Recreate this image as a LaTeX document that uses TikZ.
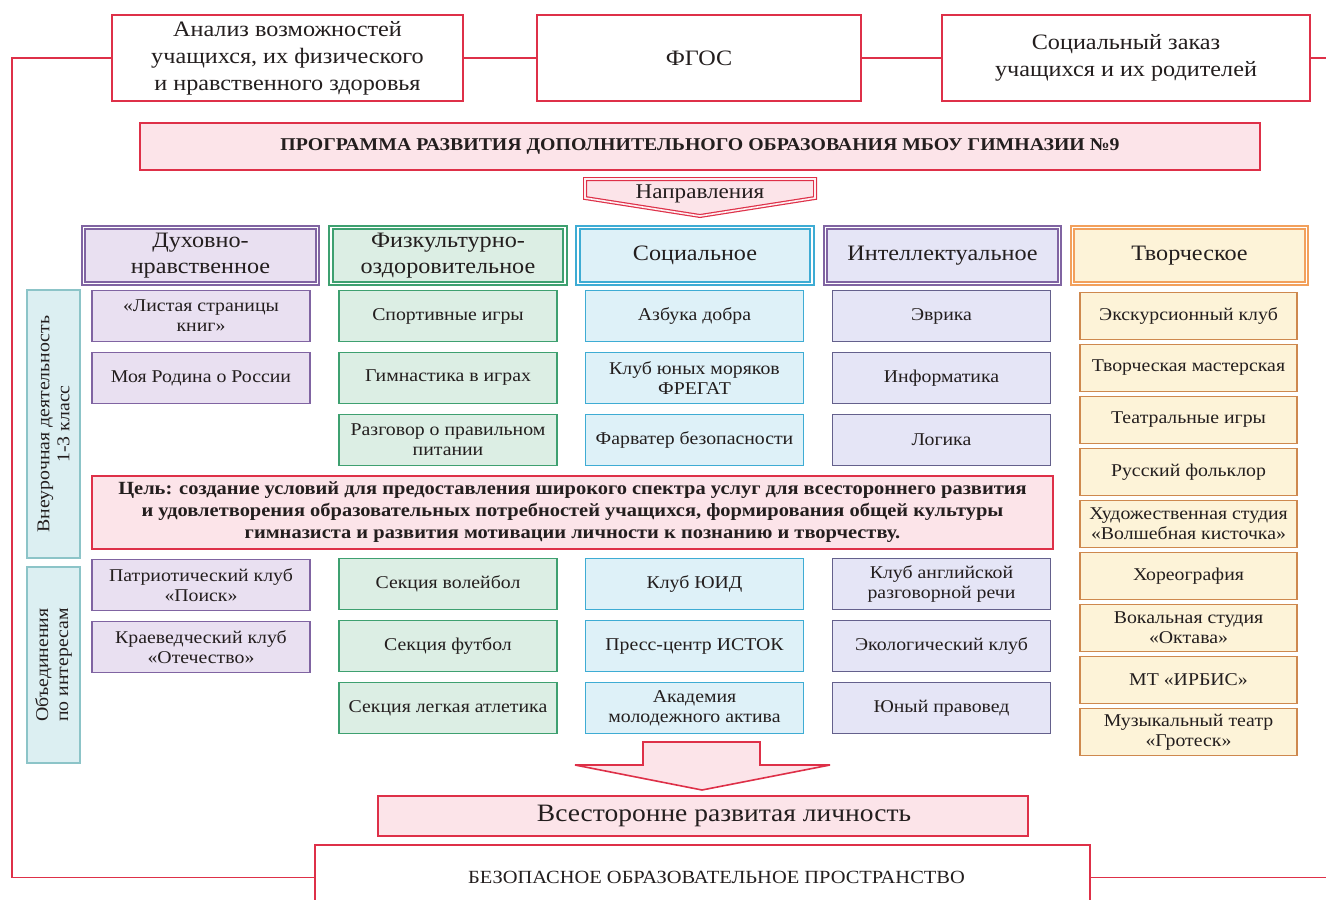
\documentclass[tikz,border=0pt]{standalone}
\usepackage{fontspec}
\setmainfont{Liberation Serif}[FakeStretch=1.1]
\usepackage{tikz}

\definecolor{redc}{RGB}{222,48,72}
\definecolor{pinkc}{RGB}{252,228,233}
\definecolor{purpc}{RGB}{128,100,162}
\definecolor{purpf}{RGB}{233,224,241}
\definecolor{greenc}{RGB}{62,160,112}
\definecolor{greenf}{RGB}{220,238,228}
\definecolor{bluec}{RGB}{62,172,212}
\definecolor{bluef}{RGB}{222,241,248}
\definecolor{lavc}{RGB}{100,96,140}
\definecolor{lavf}{RGB}{229,229,246}
\definecolor{orc}{RGB}{242,160,92}
\definecolor{orf}{RGB}{253,243,216}
\definecolor{tealc}{RGB}{140,196,200}
\definecolor{tealf}{RGB}{220,239,242}
\definecolor{txt}{RGB}{35,30,30}

\begin{document}
\begin{tikzpicture}[x=0.5pt, y=-0.5pt, text=txt]
	\tikzstyle{redbox} = [draw=redc, line width=0.8pt, fill=white, align=center, inner sep=1pt]
	\tikzstyle{pinkbox} = [redbox, fill=pinkc]
	\tikzstyle{head} = [minimum width=117pt, minimum height=28pt, align=center, inner sep=1pt,
		line width=0.9pt, double distance=0.9pt, font=\fontsize{11}{13}\selectfont]
	\tikzstyle{item} = [minimum width=109pt, minimum height=25.5pt, align=center, inner sep=1pt,
		line width=0.7pt, font=\fontsize{9}{10}\selectfont]
	\tikzstyle{dn} = [item, draw=purpc, fill=purpf]
	\tikzstyle{fz} = [item, draw=greenc, fill=greenf]
	\tikzstyle{so} = [item, draw=bluec, fill=bluef]
	\tikzstyle{intl} = [item, draw=lavc, fill=lavf]
	\tikzstyle{tv} = [item, draw=orc!85!black, fill=orf, minimum width=108.5pt, minimum height=23.5pt]
	\tikzstyle{side} = [draw=tealc, fill=tealf, line width=0.8pt, rotate=90, align=center,
		minimum height=26.5pt, inner sep=1pt, font=\fontsize{9}{10}\selectfont]
	\useasboundingbox (0,0) rectangle (1326,899);

	% source boxes
	\node[redbox, minimum width=175.5pt, minimum height=43pt, font=\fontsize{11}{13.5}\selectfont] (anal) at (287.5,58)
		{Анализ возможностей\\учащихся, их физического\\и нравственного здоровья};
	\node[redbox, minimum width=162pt, minimum height=43pt, font=\fontsize{11}{13.5}\selectfont] (fgos) at (699,58) {ФГОС};
	\node[redbox, minimum width=184pt, minimum height=43pt, font=\fontsize{11}{13.5}\selectfont] (zakaz) at (1126,58)
		{Социальный заказ\\учащихся и их родителей};
	\draw[redc, line width=0.8pt] (anal)--(fgos);
	\draw[redc, line width=0.8pt] (fgos)--(zakaz);

	% programme
	\node[pinkbox, minimum width=560pt, minimum height=23.5pt, font=\bfseries\fontsize{9}{10}\selectfont] (prog) at (700,146.5)
		{ПРОГРАММА РАЗВИТИЯ ДОПОЛНИТЕЛЬНОГО ОБРАЗОВАНИЯ МБОУ ГИМНАЗИИ №9};
	\draw[redc, fill=pinkc, line width=0.6pt, double=pinkc!60!white, double distance=0.8pt]
		(585,179)--(815,179)--(815,198)--(700,216)--(585,198)--cycle;
	\node[font=\fontsize{10.5}{12}\selectfont] (napr) at (700,194) {Направления};

	% directions
	\node[head, draw=purpc, double=white, fill=purpf] (h1) at (200.5,255.5) {Духовно-\\нравственное};
	\node[head, draw=greenc, double=white, fill=greenf] (h2) at (448,255.5) {Физкультурно-\\оздоровительное};
	\node[head, draw=bluec, double=white, fill=bluef] (h3) at (695,255.5) {Социальное};
	\node[head, draw=purpc, double=white, fill=lavf] (h4) at (942.5,255.5) {Интеллектуальное};
	\node[head, draw=orc, double=white, fill=orf] (h5) at (1189.5,255.5) {Творческое};

	% side labels
	\node[side, minimum width=134pt] (vneur) at (53.5,424) {Внеурочная деятельность\\1-3 класс};
	\node[side, minimum width=98pt] (obed) at (53.5,665) {Объединения\\по интересам};

	% upper rows
	\node[dn] (d1) at (201,316) {«Листая страницы\\книг»};
	\node[dn] (d2) at (201,378) {Моя Родина о России};
	\node[fz] (f1) at (448,316) {Спортивные игры};
	\node[fz] (f2) at (448,378) {Гимнастика в играх};
	\node[fz] (f3) at (448,440) {Разговор о правильном\\питании};
	\node[so] (s1) at (694.5,316) {Азбука добра};
	\node[so] (s2) at (694.5,378) {Клуб юных моряков\\ФРЕГАТ};
	\node[so] (s3) at (694.5,440) {Фарватер безопасности};
	\node[intl] (i1) at (941.5,316) {Эврика};
	\node[intl] (i2) at (941.5,378) {Информатика};
	\node[intl] (i3) at (941.5,440) {Логика};

	% goal
	\node[pinkbox, minimum width=480.5pt, minimum height=36.5pt, font=\bfseries\fontsize{9.3}{11}\selectfont] (goal) at (572.5,512.5)
		{Цель: создание условий для предоставления широкого спектра услуг для всестороннего развития\\
		 и удовлетворения образовательных потребностей учащихся, формирования общей культуры\\
		 гимназиста и развития мотивации личности к познанию и творчеству.};

	% lower rows
	\node[dn] (d3) at (201,585) {Патриотический клуб\\«Поиск»};
	\node[dn] (d4) at (201,647) {Краеведческий клуб\\«Отечество»};
	\node[fz] (f4) at (448,584) {Секция волейбол};
	\node[fz] (f5) at (448,646) {Секция футбол};
	\node[fz] (f6) at (448,708) {Секция легкая атлетика};
	\node[so] (s4) at (694.5,584) {Клуб ЮИД};
	\node[so] (s5) at (694.5,646) {Пресс-центр ИСТОК};
	\node[so] (s6) at (694.5,708) {Академия\\молодежного актива};
	\node[intl] (i4) at (941.5,584) {Клуб английской\\разговорной речи};
	\node[intl] (i5) at (941.5,646) {Экологический клуб};
	\node[intl] (i6) at (941.5,708) {Юный правовед};

	% creative column
	\node[tv] (t1) at (1188.5,316) {Экскурсионный клуб};
	\node[tv] (t2) at (1188.5,368) {Творческая мастерская};
	\node[tv] (t3) at (1188.5,420) {Театральные игры};
	\node[tv] (t4) at (1188.5,472) {Русский фольклор};
	\node[tv] (t5) at (1188.5,524) {Художественная студия\\«Волшебная кисточка»};
	\node[tv] (t6) at (1188.5,576) {Хореография};
	\node[tv] (t7) at (1188.5,628) {Вокальная студия\\«Октава»};
	\node[tv] (t8) at (1188.5,680) {МТ «ИРБИС»};
	\node[tv] (t9) at (1188.5,732) {Музыкальный театр\\«Гротеск»};

	% result
	\draw[redc, fill=pinkc, line width=0.8pt]
		(643,742)--(760,742)--(760,765)--(830,765)--(702,790)--(575,765)--(643,765)--cycle;
	\node[pinkbox, minimum width=325pt, minimum height=20pt, font=\fontsize{12.5}{14}\selectfont] (lichn) at (703,816)
		{\hspace*{21pt}Всесторонне развитая личность};
	\node[redbox, minimum width=387.5pt, minimum height=32.5pt, font=\fontsize{9.3}{10}\selectfont] (bez) at (702.5,877.5)
		{\hspace*{14pt}БЕЗОПАСНОЕ ОБРАЗОВАТЕЛЬНОЕ ПРОСТРАНСТВО};

	% frame
	\coordinate (frTL) at (12,58);
	\coordinate (frBL) at (12,877.5);
	\coordinate (frTR) at (1330,58);
	\coordinate (frBR) at (1330,877.5);
	\draw[redc, line width=0.8pt] (anal.west)--(frTL)--(frBL)--(bez.west);
	\draw[redc, line width=0.8pt] (zakaz.east)--(frTR);
	\draw[redc, line width=0.8pt] (bez.east)--(frBR);
\end{tikzpicture}
\end{document}
